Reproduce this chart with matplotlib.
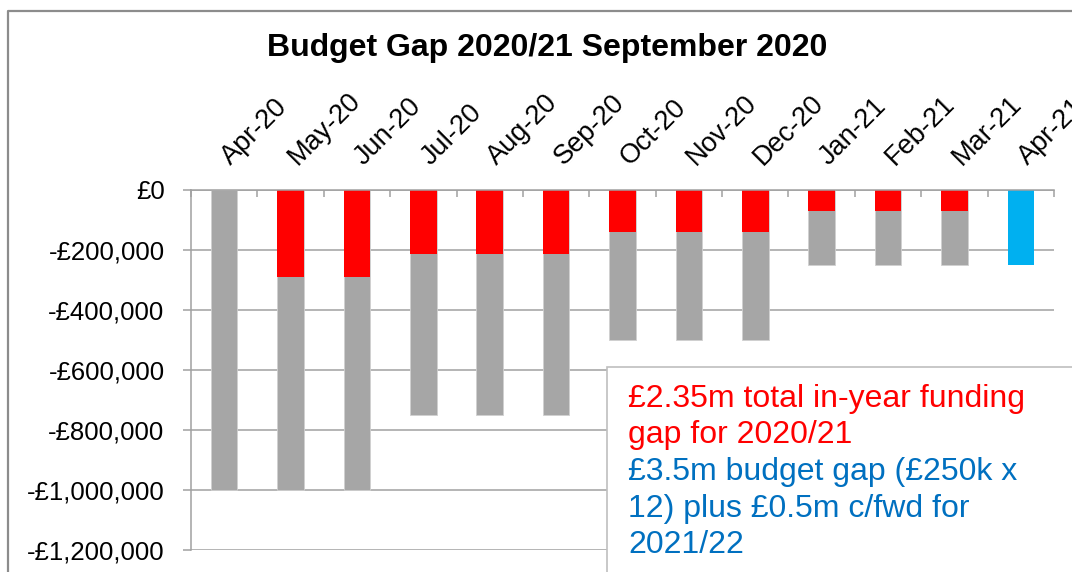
import matplotlib
matplotlib.use("Agg")
import matplotlib.pyplot as plt
from matplotlib.patches import Rectangle
from matplotlib.lines import Line2D
from matplotlib.ticker import FuncFormatter, FixedLocator
import matplotlib.transforms as mtransforms
import numpy as np

plt.rcParams['font.family'] = ['Liberation Sans', 'DejaVu Sans']

months = ["Apr-20", "May-20", "Jun-20", "Jul-20", "Aug-20", "Sep-20", "Oct-20",
          "Nov-20", "Dec-20", "Jan-21", "Feb-21", "Mar-21", "Apr-21"]
grey_vals = [-1000000, -1000000, -1000000, -750000, -750000, -750000, -500000,
             -500000, -500000, -250000, -250000, -250000, 0]
red_vals = [0, -290000, -290000, -215000, -215000, -215000, -142000,
            -142000, -142000, -72000, -72000, -72000, 0]
blue_vals = [0, 0, 0, 0, 0, 0, 0, 0, 0, 0, 0, 0, -250000]
title = "Budget Gap 2020/21 September 2020"
note_red = ["£2.35m total in-year funding", "gap for 2020/21"]
note_blue = ["£3.5m budget gap (£250k x", "12) plus £0.5m c/fwd for", "2021/22"]

W, H = 1072, 572
fig = plt.figure(figsize=(W / 100, H / 100), dpi=100)
fig.patch.set_facecolor('white')

def fx(px):
    return px / W

def fy(py):
    return 1 - py / H

ax = fig.add_axes([fx(191), fy(550), fx(1054) - fx(191), fy(189.5) - fy(550)])

x = np.arange(len(months))
bw = 0.4
ax.bar(x, grey_vals, width=bw, color='#A6A6A6', edgecolor='#D0D0D0', linewidth=0.6, zorder=3)
ax.bar(x, red_vals, width=bw, color='#FF0000', linewidth=0, zorder=4)
ax.bar(x, blue_vals, width=bw, color='#00B0F0', linewidth=0, zorder=4)

ax.set_xlim(-0.5, len(months) - 0.5)
ax.set_ylim(-1200000, 0)

gcol = '#A0A0A0'
ax.set_yticks(np.arange(-1200000, 1, 200000))
ax.yaxis.set_major_formatter(FuncFormatter(
    lambda v, p: "£0" if v == 0 else ("-£{:,.0f}".format(-v))))
ax.yaxis.grid(True, color=gcol, linewidth=1.1, zorder=0)
ax.set_axisbelow(True)
ax.tick_params(axis='y', direction='out', length=6, width=1.1, color=gcol,
               labelsize=18.5, pad=13, labelcolor='black')

ax.xaxis.tick_top()
ax.set_xticks(x)
ax.set_xticklabels(months)
ax.xaxis.set_minor_locator(FixedLocator(np.arange(-0.5, len(months), 1.0)))
ax.tick_params(axis='x', which='major', length=0, pad=17, labelsize=19.5)
ax.tick_params(axis='x', which='minor', direction='in', length=5, width=1.1,
               color=gcol, top=True, bottom=False)
offset = mtransforms.ScaledTranslation(7 / 100, 0, fig.dpi_scale_trans)
for lab in ax.get_xticklabels():
    lab.set_rotation(45)
    lab.set_ha('left')
    lab.set_va('baseline')
    lab.set_rotation_mode('anchor')
    lab.set_transform(lab.get_transform() + offset)

for s in ['right', 'bottom']:
    ax.spines[s].set_visible(False)
for s in ['left', 'top']:
    ax.spines[s].set_color(gcol)
    ax.spines[s].set_linewidth(1.1)
ax.spines['top'].set_zorder(5)

fig.text(fx(547), fy(48), title, ha='center', va='center',
         fontsize=23, fontweight='bold', color='black')

# outer chart frame
fig.add_artist(Line2D([fx(8), fx(8), fx(1080)], [fy(580), fy(11), fy(11)],
                      color='#8C8C8C', linewidth=1.6, zorder=10))

# annotation box
box = Rectangle((fx(607), fy(600)), fx(600), fy(367) - fy(600),
                transform=fig.transFigure, facecolor='white',
                edgecolor='#BFBFBF', linewidth=1.2, zorder=10)
fig.add_artist(box)
base = 407
step = 36.5
lines = [(t, '#FF0000') for t in note_red] + [(t, '#0070C0') for t in note_blue]
for i, (t, c) in enumerate(lines):
    fig.text(fx(628), fy(base + i * step), t, ha='left', va='baseline',
             fontsize=23, color=c, zorder=11)

fig.savefig("out.png", dpi=100)
